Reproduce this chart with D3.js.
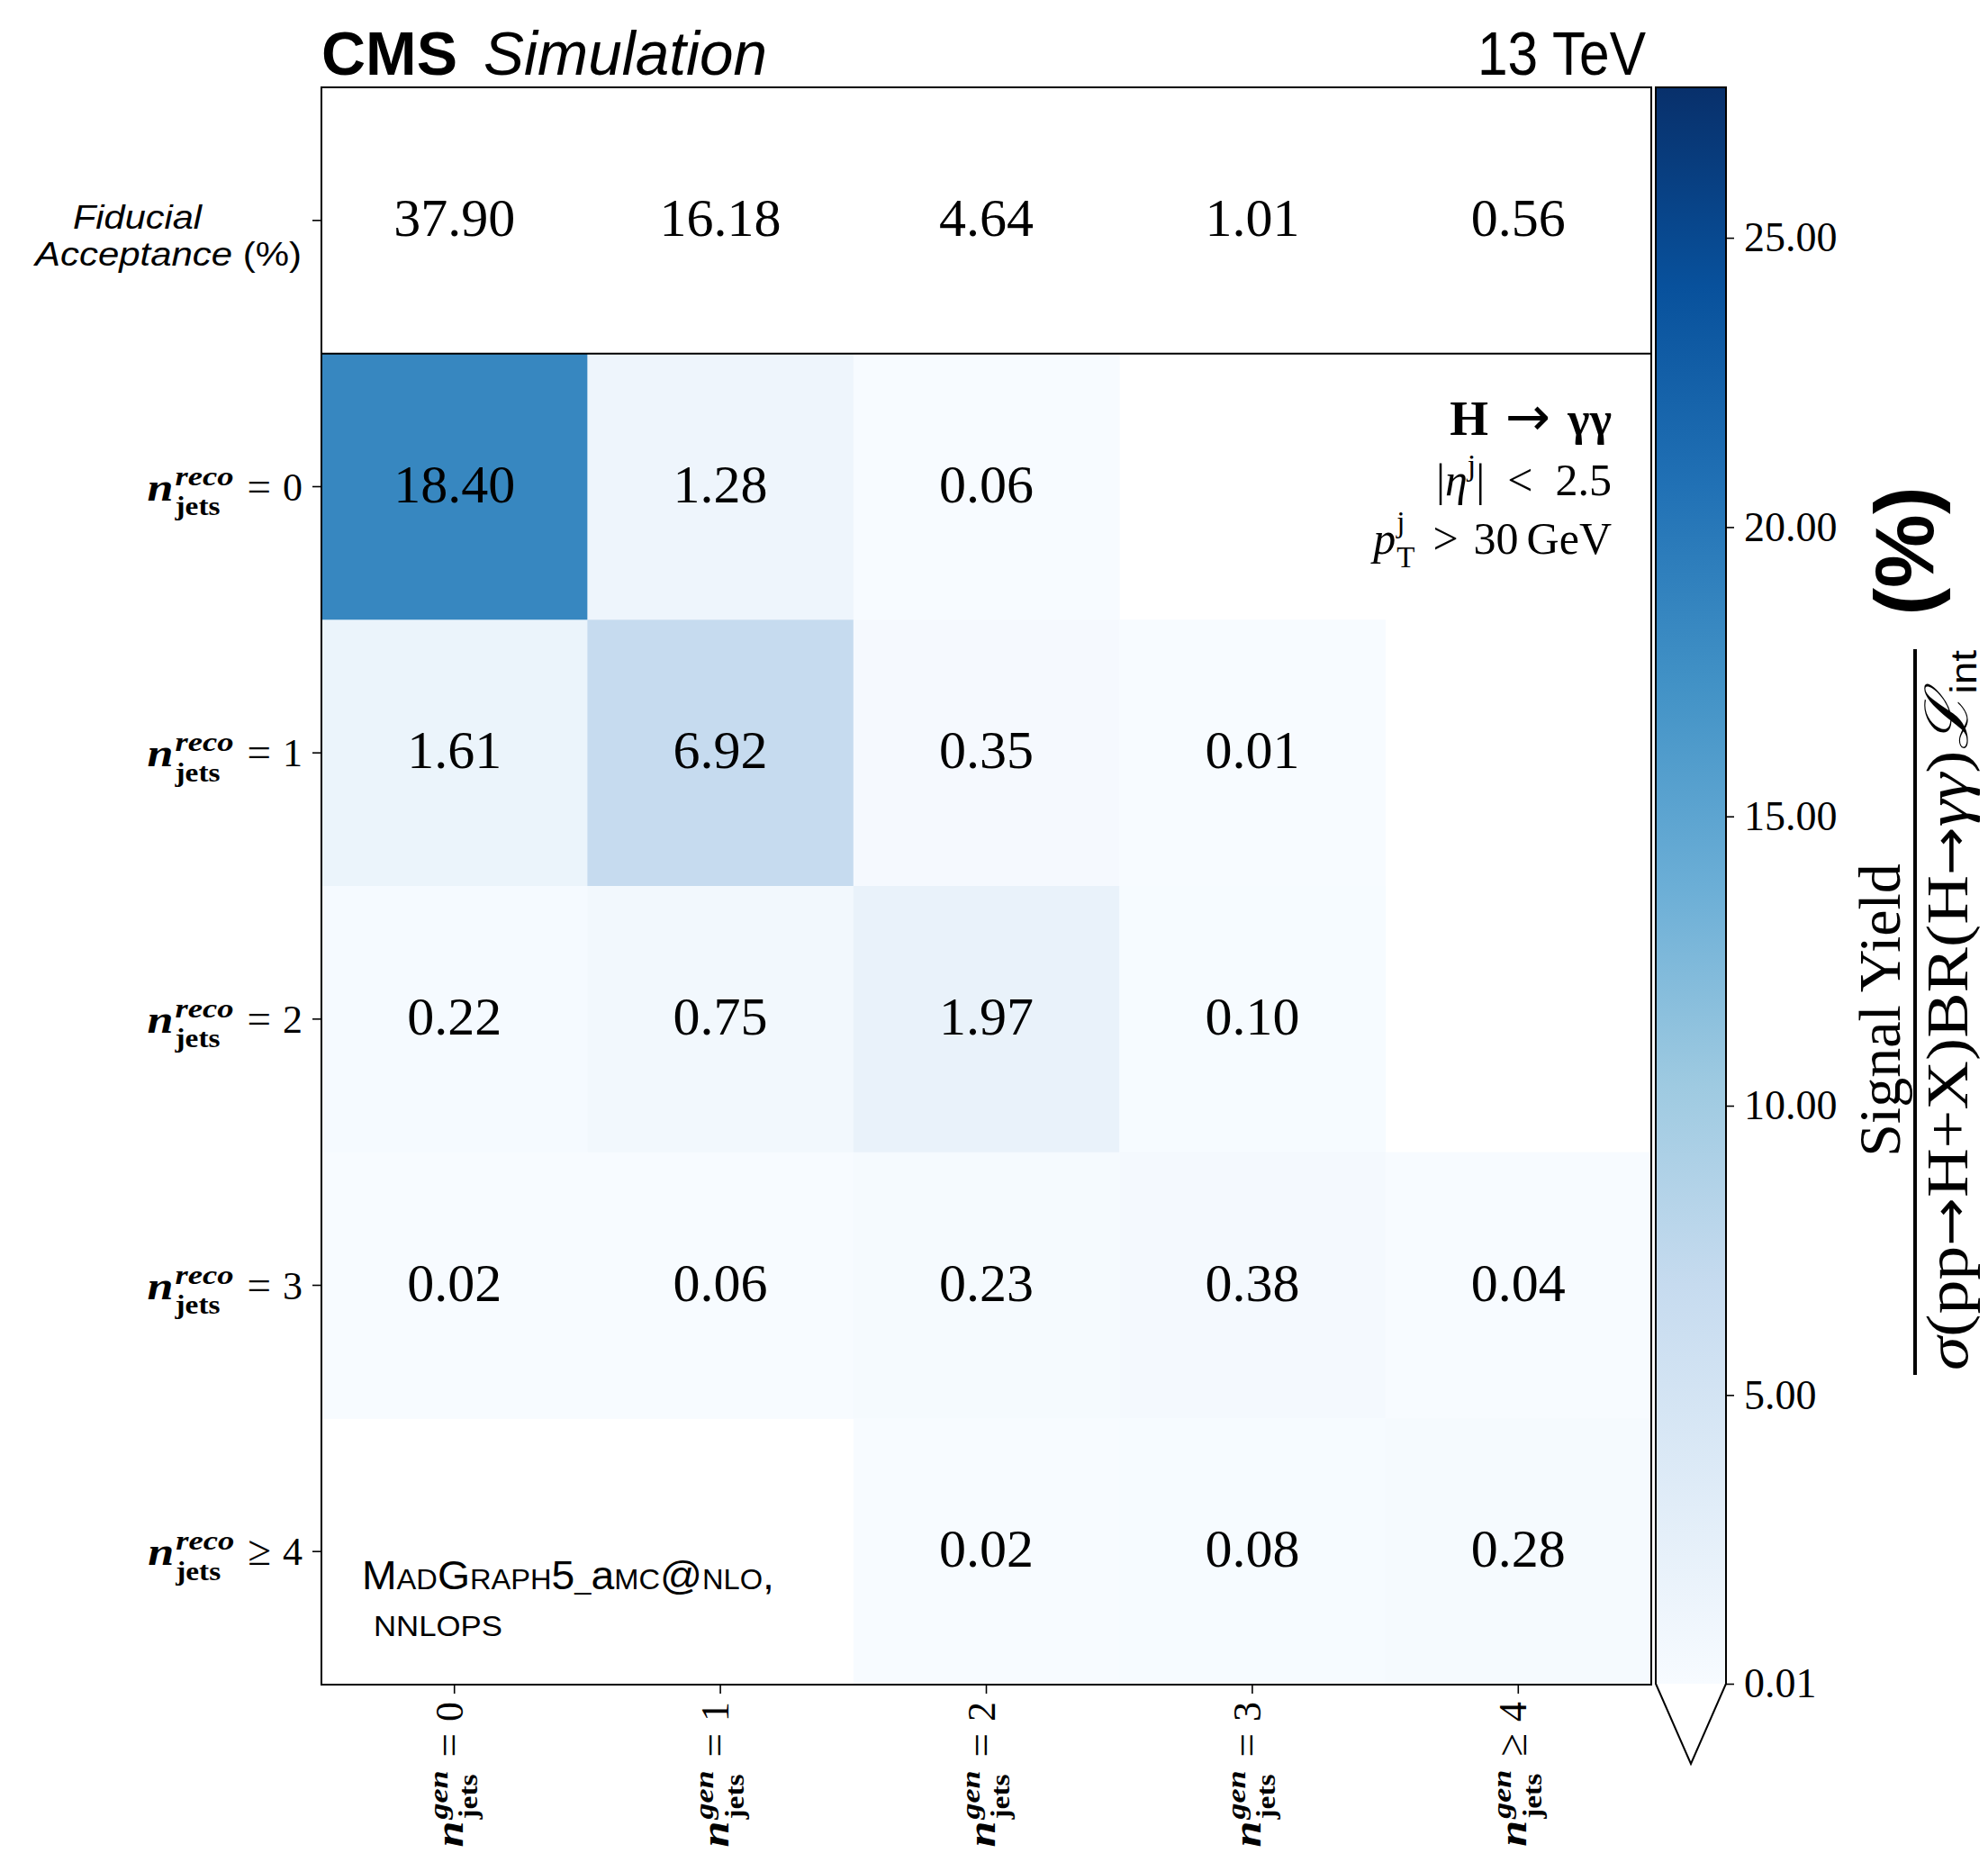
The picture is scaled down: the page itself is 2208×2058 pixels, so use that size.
<!DOCTYPE html>
<html>
<head>
<meta charset="utf-8">
<script src="https://cdn.jsdelivr.net/npm/d3@7"></script>
<style>
  body { margin: 0; background: #fff; }
  svg text { fill: #000; }
</style>
</head>
<body>
<svg id="chart" width="2208" height="2058"></svg>
<script>
// ---- data -------------------------------------------------------------
const genBins  = ["= 0", "= 1", "= 2", "= 3", "\u2265 4"];
const recoBins = ["= 0", "= 1", "= 2", "= 3", "\u2265 4"];

// fiducial acceptance per generator-level jet bin (%)
const fiducialAcceptance = [37.90, 16.18, 4.64, 1.01, 0.56];

// signal yield per reco bin (rows) and gen bin (columns), in %
const yieldReco0 = [18.40, 1.28, 0.06, 0.00, 0.00];
const yieldReco1 = [1.61, 6.92, 0.35, 0.01, 0.00];
const yieldReco2 = [0.22, 0.75, 1.97, 0.10, 0.00];
const yieldReco3 = [0.02, 0.06, 0.23, 0.38, 0.04];
const yieldReco4 = [0.00, 0.00, 0.02, 0.08, 0.28];
const yieldMatrix = [yieldReco0, yieldReco1, yieldReco2, yieldReco3, yieldReco4];

const colorbarTicks = [0.01, 5, 10, 15, 20, 25];
const colorMin = 0.01;
const colorMax = 27.6;

// ColorBrewer "Blues" anchor colours
const blues = ["#f7fbff", "#deebf7", "#c6dbef", "#9ecae1", "#6baed6",
               "#4292c6", "#2171b5", "#08519c", "#08306b"];

// ---- layout -----------------------------------------------------------
const svg = d3.select("#chart");
const SERIF = "'Liberation Serif', 'DejaVu Serif', serif";
const SANS = "'Liberation Sans', Arial, sans-serif";
const ARROW = "'DejaVu Sans', sans-serif";

const L = 357, R = 1834, T = 97, B = 1871;
const cbX = 1839, cbW = 78, cbTop = T, cbBot = 1870, cbExt = 89;

svg.append("rect").attr("width", 2208).attr("height", 2058).attr("fill", "#fff");

const x = d3.scaleBand().domain(d3.range(genBins.length)).range([L, R]);
const rowKeys = ["fid"].concat(d3.range(recoBins.length));
const y = d3.scaleBand().domain(rowKeys).range([T, B]);

const color = d3.scaleLinear()
  .domain(blues.map((_, i) => colorMin + i * (colorMax - colorMin) / (blues.length - 1)))
  .range(blues)
  .interpolate(d3.interpolateRgb)
  .clamp(true);

const textLen = sel => sel.node().getComputedTextLength();

// ---- heat-map cells ---------------------------------------------------
const cells = [];
yieldMatrix.forEach((row, r) => row.forEach((v, c) => cells.push({ r, c, v })));

const shown = cells.filter(d => d.v >= colorMin);

svg.append("g").selectAll("rect").data(shown).join("rect")
  .attr("x", d => x(d.c))
  .attr("y", d => y(d.r))
  .attr("width", x.bandwidth() + 0.5)
  .attr("height", y.bandwidth() + 0.5)
  .attr("fill", d => color(d.v));

svg.append("g").selectAll("text").data(shown).join("text")
  .attr("x", d => x(d.c) + x.bandwidth() / 2)
  .attr("y", d => y(d.r) + y.bandwidth() / 2 + 17)
  .attr("text-anchor", "middle")
  .attr("font-family", SERIF)
  .attr("font-size", 60)
  .text(d => d.v.toFixed(2));

// fiducial acceptance row
svg.append("g").selectAll("text").data(fiducialAcceptance).join("text")
  .attr("x", (d, i) => x(i) + x.bandwidth() / 2)
  .attr("y", y("fid") + y.bandwidth() / 2 + 17)
  .attr("text-anchor", "middle")
  .attr("font-family", SERIF)
  .attr("font-size", 60)
  .text(d => d.toFixed(2));

// separator below the acceptance row and frame
svg.append("line")
  .attr("x1", L).attr("x2", R)
  .attr("y1", y(0)).attr("y2", y(0))
  .attr("stroke", "#000").attr("stroke-width", 2);

svg.append("rect")
  .attr("x", L).attr("y", T).attr("width", R - L).attr("height", B - T)
  .attr("fill", "none").attr("stroke", "#000").attr("stroke-width", 2);

// ---- axes ticks -------------------------------------------------------
const gy = svg.append("g").attr("transform", `translate(${L},0)`)
  .call(d3.axisLeft(y).tickSize(10).tickFormat(""));
gy.select(".domain").remove();
gy.selectAll("line").attr("stroke-width", 1.6);

const gx = svg.append("g").attr("transform", `translate(0,${B})`)
  .call(d3.axisBottom(x).tickSize(10).tickFormat(""));
gx.select(".domain").remove();
gx.selectAll("line").attr("stroke-width", 1.6);

// label of the form  base^{sup}_{sub} tail..., right end at local x = 0
function scriptedLabel(parent, p) {
  const outer = parent.append("g");
  const g = outer.append("g");
  const base = g.append("text")
    .attr("font-family", SERIF).attr("font-size", p.size)
    .attr("font-weight", p.baseWeight || "bold").attr("font-style", "italic")
    .text(p.base);
  if (p.baseLen) base.attr("textLength", p.baseLen).attr("lengthAdjust", "spacingAndGlyphs");
  const wb = (p.baseLen || textLen(base)) + (p.baseGap || 0);
  // superscript and subscript stacked in one text element
  const scripts = g.append("text")
    .attr("font-family", SERIF).attr("font-size", p.scriptSize);
  const sup = scripts.append("tspan").attr("x", wb).attr("y", p.supDy)
    .attr("font-weight", p.supWeight || "bold").attr("font-style", p.supStyle || "italic")
    .text(p.sup);
  if (p.supLen) sup.attr("textLength", p.supLen).attr("lengthAdjust", "spacingAndGlyphs");
  const sub = scripts.append("tspan").attr("x", wb + (p.subDx || 0)).attr("y", p.subDy)
    .attr("font-weight", p.subWeight || "bold").attr("font-style", "normal")
    .text(p.sub);
  if (p.subLen) sub.attr("textLength", p.subLen).attr("lengthAdjust", "spacingAndGlyphs");
  let cx = wb + Math.max(p.supLen || textLen(sup), (p.subLen || textLen(sub)) + (p.subDx || 0));
  p.tail.forEach(part => {
    cx += part.gap;
    const t = g.append("text").attr("x", cx)
      .attr("font-family", part.family || SERIF).attr("font-size", part.size)
      .text(part.t);
    cx += textLen(t);
  });
  g.attr("transform", `translate(${-cx},0)`);
  return outer;
}

function relationTail(label) {
  const [op, val] = label.split(" ");
  return [{ t: op, gap: 15, size: 47 }, { t: val, gap: 13, size: 44 }];
}

// reco-level row labels
recoBins.forEach((lab, i) => {
  scriptedLabel(svg, {
    base: "n", sup: "reco", sub: "jets", tail: relationTail(lab),
    size: 44, baseLen: 29, scriptSize: 30, supLen: 65, subLen: 50,
    supDy: -17, subDy: 16.5, baseGap: 2
  }).attr("transform", `translate(336,${y(i) + y.bandwidth() / 2 + 15})`);
});

// gen-level column labels (rotated)
genBins.forEach((lab, i) => {
  scriptedLabel(svg, {
    base: "n", sup: "gen", sub: "jets", tail: relationTail(lab),
    size: 44, baseLen: 29, scriptSize: 30, supLen: 54, subLen: 50,
    supDy: -17, subDy: 16.5, baseGap: 2
  }).attr("transform", `translate(${x(i) + x.bandwidth() / 2},1890) rotate(-90) translate(0,9)`);
});

// acceptance row label (two lines)
svg.append("text")
  .attr("x", 81).attr("y", 254)
  .attr("font-family", SANS).attr("font-size", 36).attr("font-style", "italic")
  .attr("textLength", 143).attr("lengthAdjust", "spacingAndGlyphs")
  .text("Fiducial");
const acc = svg.append("text")
  .attr("x", 39).attr("y", 295)
  .attr("font-family", SANS).attr("font-size", 36)
  .attr("textLength", 296).attr("lengthAdjust", "spacingAndGlyphs");
acc.append("tspan").attr("font-style", "italic").text("Acceptance");
acc.append("tspan").text(" (%)");

// ---- header -----------------------------------------------------------
svg.append("text").attr("x", 357).attr("y", 83)
  .attr("font-family", SANS).attr("font-size", 68).attr("font-weight", "bold")
  .attr("textLength", 151).attr("lengthAdjust", "spacingAndGlyphs")
  .text("CMS");
svg.append("text").attr("x", 537).attr("y", 83)
  .attr("font-family", SANS).attr("font-size", 68).attr("font-style", "italic")
  .attr("textLength", 315).attr("lengthAdjust", "spacingAndGlyphs")
  .text("Simulation");
svg.append("text").attr("x", 1641).attr("y", 83)
  .attr("font-family", SANS).attr("font-size", 68)
  .attr("textLength", 187).attr("lengthAdjust", "spacingAndGlyphs")
  .text("13 TeV");

// ---- process / selection annotation ----------------------------------
const ann1 = svg.append("text").attr("x", 1790).attr("y", 483)
  .attr("text-anchor", "end").attr("font-family", SERIF).attr("font-size", 52)
  .attr("xml:space", "preserve");
ann1.append("tspan").attr("font-weight", "bold").attr("font-size", 55).text("H");
ann1.append("tspan").attr("font-family", ARROW).attr("font-size", 60).text(" \u2192 ");
ann1.append("tspan").attr("font-weight", "bold").text("\u03b3\u03b3");

const ann2 = svg.append("text").attr("x", 1790).attr("y", 550)
  .attr("text-anchor", "end").attr("font-family", SERIF).attr("font-size", 50)
  .attr("xml:space", "preserve");
ann2.append("tspan").text("|");
ann2.append("tspan").attr("font-style", "italic").text("\u03b7");
ann2.append("tspan").attr("font-size", 34).attr("dy", -22).text("j");
ann2.append("tspan").attr("dy", 22).text("|\u2002<\u20022.5");

scriptedLabel(svg, {
  base: "p", baseWeight: "normal", sup: "j", supWeight: "normal", supStyle: "normal",
  sub: "T", subWeight: "normal",
  tail: [{ t: ">", gap: 20, size: 50 }, { t: "30", gap: 17, size: 50 }, { t: "GeV", gap: 9, size: 50 }],
  size: 50, scriptSize: 33, supDy: -24, subDy: 15, baseGap: 1
}).attr("transform", "translate(1790,615)");

// generator annotation
const gen1 = svg.append("text").attr("x", 402).attr("y", 1765)
  .attr("font-family", SANS).attr("font-size", 44)
  .attr("textLength", 458).attr("lengthAdjust", "spacingAndGlyphs");
[["M", 44], ["AD", 31], ["G", 44], ["RAPH", 31], ["5", 44], ["_", 31],
 ["a", 44], ["MC", 31], ["@", 44], ["NLO", 31], [",", 44]]
  .forEach(([t, s]) => gen1.append("tspan").attr("font-size", s).text(t));
svg.append("text").attr("x", 415).attr("y", 1817)
  .attr("font-family", SANS).attr("font-size", 31)
  .attr("textLength", 143).attr("lengthAdjust", "spacingAndGlyphs")
  .text("NNLOPS");

// ---- colour bar -------------------------------------------------------
const grad = svg.append("defs").append("linearGradient")
  .attr("id", "cbGrad").attr("x1", 0).attr("y1", 1).attr("x2", 0).attr("y2", 0);
blues.forEach((c, i) => grad.append("stop")
  .attr("offset", i / (blues.length - 1)).attr("stop-color", c));

const cbScale = d3.scaleLinear().domain([colorMin, colorMax]).range([cbBot, cbTop]);

svg.append("rect")
  .attr("x", cbX).attr("y", cbScale(colorMax))
  .attr("width", cbW).attr("height", cbScale(colorMin) - cbScale(colorMax))
  .attr("fill", "url(#cbGrad)");

const cbOutline = [
  [cbX, cbScale(colorMax)], [cbX + cbW, cbScale(colorMax)],
  [cbX + cbW, cbScale(colorMin)], [cbX + cbW / 2, cbScale(colorMin) + cbExt],
  [cbX, cbScale(colorMin)]
];
svg.append("path")
  .attr("d", d3.line()([cbOutline[2], cbOutline[3], cbOutline[4]]))
  .attr("fill", "#fff");
svg.append("path")
  .attr("d", d3.line()(cbOutline) + "Z")
  .attr("fill", "none").attr("stroke", "#000").attr("stroke-width", 2);

const gcb = svg.append("g").attr("transform", `translate(${cbX + cbW},0)`)
  .call(d3.axisRight(cbScale).tickValues(colorbarTicks)
    .tickFormat(d3.format(".2f")).tickSize(9).tickPadding(11));
gcb.select(".domain").remove();
gcb.selectAll("line").attr("stroke-width", 1.6);
gcb.selectAll("text").attr("font-family", SERIF).attr("font-size", 46);

// colour-bar title: Signal Yield / (sigma BR L_int)  (%)
const cbl = svg.append("g").attr("transform", "translate(2127,1122) rotate(-90)");
cbl.append("text").attr("y", -17).attr("text-anchor", "middle")
  .attr("font-family", SERIF).attr("font-size", 66)
  .text("Signal Yield");
cbl.append("line").attr("x1", -405).attr("x2", 401)
  .attr("stroke", "#000").attr("stroke-width", 4);
const den = cbl.append("text").attr("y", 58).attr("text-anchor", "middle")
  .attr("font-family", SERIF).attr("font-size", 66)
  .attr("textLength", 800).attr("lengthAdjust", "spacingAndGlyphs");
den.append("tspan").attr("font-style", "italic").text("\u03c3");
den.append("tspan").text("(pp");
den.append("tspan").attr("font-family", ARROW).attr("font-size", 56).text("\u2192");
den.append("tspan").text("H+X)BR(H");
den.append("tspan").attr("font-family", ARROW).attr("font-size", 56).text("\u2192");
den.append("tspan").attr("font-style", "italic").text("\u03b3\u03b3");
den.append("tspan").text(")");
den.append("tspan").attr("font-family", "'DejaVu Serif', serif").attr("font-style", "italic").text("\u2112");
den.append("tspan").attr("font-family", SANS).attr("font-size", 40).attr("dy", 10).text("int");
cbl.append("text").attr("x", 510).attr("y", 20).attr("text-anchor", "middle")
  .attr("font-family", SANS).attr("font-size", 92).attr("font-weight", "bold")
  .text("(%)");
</script>
</body>
</html>
